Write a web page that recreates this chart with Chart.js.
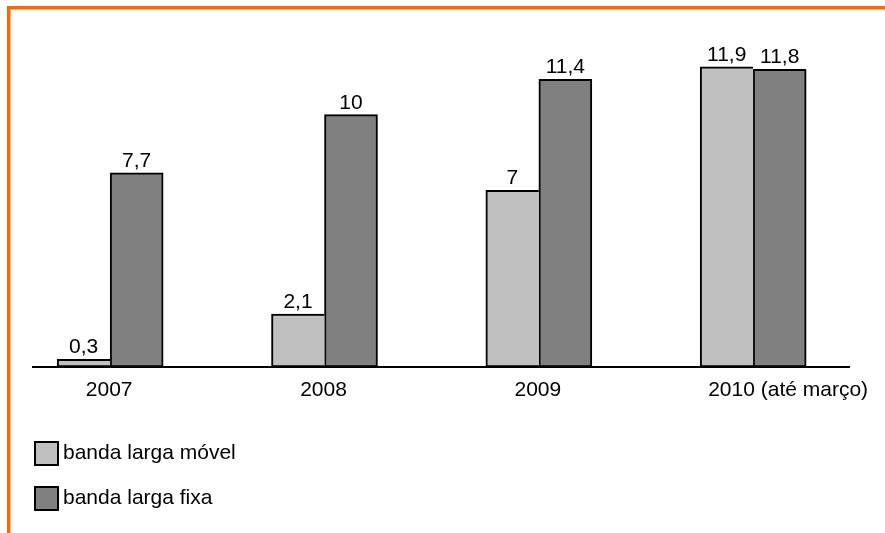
<!DOCTYPE html>
<html lang="pt-BR">
<head>
<meta charset="utf-8">
<title>Banda larga móvel e fixa</title>
<script src="https://cdn.jsdelivr.net/npm/chart.js@4"></script>
<style>
  html, body { margin: 0; padding: 0; background: #fff; }
  #wrap { position: relative; width: 885px; height: 533px; overflow: hidden; }
  #frame {
    position: absolute; left: 7px; top: 6px; right: -10px; bottom: -10px;
    border-top: 3px solid #ff6600; border-left: 3px solid #ff6600;
    box-shadow: inset 1px 1px 0 #ffb27f;
    pointer-events: none;
  }
  canvas { display: block; }
</style>
</head>
<body>
<div id="wrap">
  <canvas id="chart" width="885" height="533"></canvas>
  <div id="frame"></div>
</div>
<script>
// Anos e valores (milhões de acessos)
const categories = ['2007', '2008', '2009', '2010 (até março)'];
const movel = [0.3, 2.1, 7, 11.9];
const fixa = [7.7, 10, 11.4, 11.8];
const seriesNames = ['banda larga móvel', 'banda larga fixa'];

const FONT = '"Liberation Sans", Arial, sans-serif';
const fmt = v => String(v).replace('.', ',');

// Value labels above each bar
const valueLabels = {
  id: 'valueLabels',
  afterDatasetsDraw(chart) {
    const ctx = chart.ctx;
    ctx.save();
    ctx.font = '21px ' + FONT;
    ctx.fillStyle = '#000';
    ctx.textAlign = 'center';
    ctx.textBaseline = 'alphabetic';
    chart.data.datasets.forEach((ds, di) => {
      chart.getDatasetMeta(di).data.forEach((el, i) => {
        ctx.fillText(fmt(ds.data[i].y), el.x, el.y - 6);
      });
    });
    ctx.restore();
  }
};

// Category labels under each group; long labels start at the group's left edge
const categoryLabels = {
  id: 'categoryLabels',
  afterDraw(chart) {
    const ctx = chart.ctx;
    const xs = chart.scales.x;
    const meta0 = chart.getDatasetMeta(0);
    ctx.save();
    ctx.font = '21px ' + FONT;
    ctx.fillStyle = '#000';
    ctx.textBaseline = 'alphabetic';
    const y = chart.chartArea.bottom + 29;
    categories.forEach((c, i) => {
      const cx = xs.getPixelForValue(i);
      const left = meta0.data[i].x - meta0.data[i].width / 2;
      const w = ctx.measureText(c).width;
      if (w > 2 * meta0.data[i].width) {
        ctx.textAlign = 'left';
        ctx.fillText(c, left + 8, y);
      } else {
        ctx.textAlign = 'center';
        ctx.fillText(c, cx - 1, y);
      }
    });
    ctx.restore();
  }
};

// Vertical legend at the bottom left
const boxLegend = {
  id: 'boxLegend',
  afterDraw(chart) {
    const ctx = chart.ctx;
    ctx.save();
    ctx.font = '21px ' + FONT;
    ctx.textBaseline = 'alphabetic';
    ctx.textAlign = 'left';
    chart.data.datasets.forEach((ds, i) => {
      const top = 442 + i * 45;
      ctx.fillStyle = ds.backgroundColor;
      ctx.fillRect(35, top, 23, 23);
      ctx.strokeStyle = '#000';
      ctx.lineWidth = 2;
      ctx.strokeRect(35, top, 23, 23);
      ctx.fillStyle = '#000';
      ctx.fillText(ds.label, 63, top + 17);
    });
    ctx.restore();
  }
};

new Chart(document.getElementById('chart'), {
  type: 'bar',
  data: {
    datasets: [
      {
        label: seriesNames[0],
        data: movel.map((v, i) => ({ x: i, y: v })),
        backgroundColor: '#c0c0c0',
        borderColor: '#000',
        borderWidth: 2,
        borderSkipped: 'right'
      },
      {
        label: seriesNames[1],
        data: fixa.map((v, i) => ({ x: i, y: v })),
        backgroundColor: '#808080',
        borderColor: '#000',
        borderWidth: 2,
        borderSkipped: false
      }
    ]
  },
  options: {
    responsive: false,
    animation: false,
    barThickness: 53,
    layout: { padding: { left: 33, right: 36, top: 39, bottom: 166 } },
    plugins: {
      legend: { display: false },
      tooltip: { enabled: false },
      title: { display: false }
    },
    scales: {
      x: {
        type: 'linear',
        offset: false,
        min: -0.36,
        max: 3.447,
        ticks: { display: false },
        grid: { display: true, drawOnChartArea: false, drawTicks: false, color: 'rgba(0,0,0,0)' },
        border: { display: true, color: '#000', width: 2 },
        afterFit(scale) { scale.height = 0; }
      },
      y: {
        display: false,
        min: 0,
        max: 13
      }
    }
  },
  plugins: [valueLabels, categoryLabels, boxLegend]
});
</script>
</body>
</html>
